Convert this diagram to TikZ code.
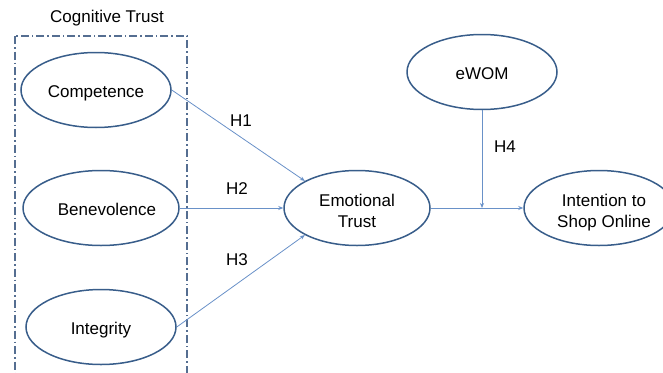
\documentclass[tikz,border=0pt]{standalone}
\usepackage{fontspec}
\setmainfont{Liberation Sans}
\usetikzlibrary{shapes.geometric,arrows.meta}
\definecolor{OvalBlue}{RGB}{56,93,138}
\definecolor{LinkBlue}{RGB}{105,145,200}
\definecolor{FrameBlue}{RGB}{85,110,145}

\begin{document}
\begin{tikzpicture}[x=1pt,y=-1pt,
  construct/.style={ellipse,draw=OvalBlue,line width=1.5pt,minimum width=150pt,
    minimum height=75pt,align=center,inner sep=0pt,text height=19pt,text depth=4pt,
    font=\fontsize{17}{21}\selectfont},
  twoline/.style={text height={},text depth={}},
  link/.style={draw=LinkBlue,line width=0.8pt,-{Stealth[length=5pt,width=4pt]}},
  hyp/.style={font=\fontsize{17}{21}\selectfont}]
  \useasboundingbox (0,0) rectangle (663,372);
  \clip (0,0) rectangle (663,372);

  % Cognitive trust group
  \node[hyp] (cogtitle) at (107,18) {Cognitive Trust};
  \draw[FrameBlue,line width=1.5pt,dash pattern=on 8pt off 3pt on 1.5pt off 3pt]
    (15,36) rectangle (187,390);

  \node[construct] (competence) at (96,90) {Competence};
  \node[construct] (benevolence) at (101,208) {\hspace{12pt}Benevolence};
  \node[construct] (integrity) at (101,327) {Integrity};

  \node[construct,twoline,minimum width=146pt] (emotional) at (357,208)
    {\rule{0pt}{18pt}Emotional\\Trust};
  \node[construct] (ewom) at (482,72) {eWOM};
  \node[construct,twoline] (intention) at (599,208)
    {\rule{0pt}{22pt}\hspace{10pt}Intention to\\\hspace{10pt}Shop Online};

  % Hypotheses
  \coordinate (joint) at (482,208);
  \draw[link] (competence.east) -- (emotional.north west);
  \draw[link] (benevolence.east) -- (emotional.west);
  \draw[link] (integrity.east) -- (emotional.south west);
  \draw[link] (emotional.east) -- (intention.west);
  \draw[link] (ewom.south) -- (joint);

  \node[hyp] (h1) at (241,121) {H1};
  \node[hyp] (h2) at (237,189) {H2};
  \node[hyp] (h3) at (237,260) {H3};
  \node[hyp] (h4) at (505,147) {H4};
\end{tikzpicture}
\end{document}
